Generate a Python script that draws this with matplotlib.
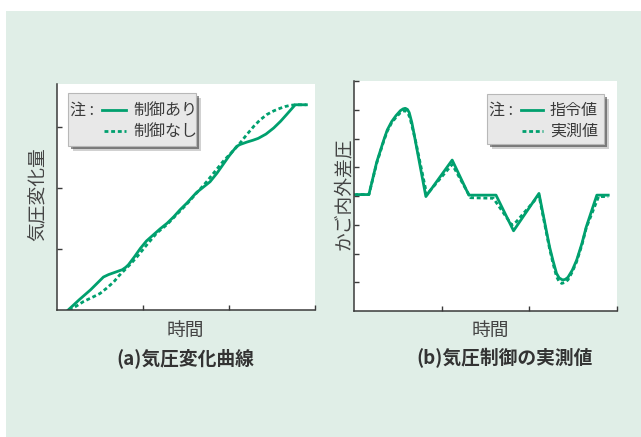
import matplotlib
matplotlib.use("Agg")
import matplotlib.pyplot as plt
from matplotlib.lines import Line2D
from matplotlib.patches import Rectangle

plt.rcParams["font.family"] = ["Noto Sans CJK JP", "DejaVu Sans"]

W, H = 641, 437
GREEN = "#00a06e"
BG = "#e0eee7"
INK = "#3a3a3a"
LW = 2.0
DOTS = (1.4, 1.0)

# (a) 気圧変化曲線
a_t_ctrl = [0.13, 0.26, 0.39, 0.54, 0.60, 0.64, 0.70, 0.76, 0.80, 0.83, 0.90,
            0.97, 1.04, 1.12, 1.20, 1.28, 1.36, 1.43, 1.51, 1.62, 1.70, 1.78,
            1.86, 1.93, 2.00, 2.05, 2.09, 2.13, 2.17, 2.21, 2.28, 2.34, 2.43,
            2.52, 2.60, 2.67, 2.72, 2.77, 2.90]
a_p_ctrl = [0.00, 0.17, 0.33, 0.54, 0.58, 0.60, 0.63, 0.66, 0.70, 0.74, 0.87,
            1.01, 1.13, 1.23, 1.33, 1.42, 1.53, 1.64, 1.75, 1.92, 2.01, 2.10,
            2.24, 2.38, 2.52, 2.61, 2.68, 2.71, 2.73, 2.75, 2.78, 2.81, 2.88,
            2.98, 3.09, 3.20, 3.28, 3.36, 3.36]
a_t_free = [0.14, 0.22, 0.31, 0.40, 0.50, 0.58, 0.66, 0.72, 0.79, 0.86, 0.93,
            1.04, 1.16, 1.28, 1.50, 1.74, 1.93, 2.11, 2.20, 2.29, 2.36, 2.44,
            2.52, 2.59, 2.65, 2.71, 2.77, 2.90]
a_p_free = [0.00, 0.06, 0.14, 0.20, 0.27, 0.36, 0.46, 0.56, 0.66, 0.76, 0.87,
            1.06, 1.26, 1.40, 1.72, 2.10, 2.43, 2.70, 2.86, 3.01, 3.11, 3.20,
            3.26, 3.30, 3.33, 3.35, 3.36, 3.36]

# (b) 気圧制御の実測値
b_t_cmd = [0.04, 0.17, 0.26, 0.34, 0.38, 0.43, 0.48, 0.53, 0.56, 0.585, 0.61,
           0.63, 0.66, 0.68, 0.82, 1.12, 1.31, 1.62, 1.82, 2.11, 2.23, 2.27,
           2.31, 2.34, 2.38, 2.41, 2.44, 2.49, 2.54, 2.60, 2.65, 2.77, 2.90]
b_p_cmd = [4.05, 4.05, 5.19, 5.95, 6.30, 6.59, 6.80, 6.97, 7.03, 7.05, 7.01,
           6.90, 6.55, 6.24, 3.98, 5.25, 4.03, 4.03, 2.79, 4.09, 2.24, 1.75,
           1.31, 1.15, 1.08, 1.10, 1.17, 1.42, 1.77, 2.35, 2.93, 4.03, 4.03]
b_t_meas = [0.0, 0.17, 0.26, 0.34, 0.38, 0.43, 0.48, 0.53, 0.56, 0.59, 0.62,
            0.64, 0.70, 0.83, 1.12, 1.33, 1.59, 1.80, 1.85, 2.11, 2.23, 2.27,
            2.31, 2.34, 2.37, 2.40, 2.44, 2.49, 2.54, 2.60, 2.65, 2.79, 2.90]
b_p_meas = [4.05, 4.05, 5.15, 5.92, 6.26, 6.55, 6.74, 6.90, 6.95, 6.96, 6.85,
            6.70, 5.95, 4.05, 5.10, 3.94, 3.92, 2.99, 3.10, 4.02, 2.18, 1.66,
            1.20, 1.02, 0.96, 0.99, 1.08, 1.36, 1.72, 2.30, 2.90, 3.98, 3.98]

a_ticks_x = [1, 2, 3]
a_ticks_y = [1, 2, 3]
b_ticks_x = [1, 2, 3]
b_ticks_y = [1, 2, 3, 4, 5, 6, 7, 8]


def fx(px):
    return px / W


def fy(py):
    return 1 - py / H


def setup_axes(rect, xlim, ylim, xticks, yticks):
    ax = fig.add_axes(rect)
    ax.set_facecolor("white")
    ax.set_xlim(*xlim)
    ax.set_ylim(*ylim)
    for s in ("top", "right"):
        ax.spines[s].set_visible(False)
    for s in ("left", "bottom"):
        ax.spines[s].set_color(INK)
        ax.spines[s].set_linewidth(1.1)
    ax.set_xticks(xticks)
    ax.set_yticks(yticks)
    ax.set_xticklabels([])
    ax.set_yticklabels([])
    ax.tick_params(direction="in", length=3.5, width=1.0, color=INK)
    return ax


def draw_note(box, rows):
    """凡例（注：）を影付きの枠で描く。box = (x0, y0, x1, y1) [px]"""
    x0, y0, x1, y1 = box
    for off, c, a in [(4.5, "#000000", 0.18), (3.0, "#333333", 0.55)]:
        fig.add_artist(Rectangle((fx(x0 + off), fy(y1 + off)),
                                 fx(x1 - x0), (y1 - y0) / H,
                                 transform=fig.transFigure, facecolor=c,
                                 edgecolor="none", alpha=a, zorder=5))
    fig.add_artist(Rectangle((fx(x0), fy(y1)), fx(x1 - x0), (y1 - y0) / H,
                             transform=fig.transFigure, facecolor="#e8e8e8",
                             edgecolor="#b8b8b8", linewidth=0.8, zorder=6))
    for i, (lx0, lx1, tx, yy, label, dashed) in enumerate(rows):
        if i == 0:
            fig.text(fx(x0 + 2), fy(yy), "注 :", fontsize=11.5, color=INK,
                     ha="left", va="center", zorder=7)
        ln = Line2D([fx(lx0), fx(lx1)], [fy(yy), fy(yy)],
                    transform=fig.transFigure, color=GREEN, lw=LW, zorder=7)
        if dashed:
            ln.set_dashes(DOTS)
        fig.add_artist(ln)
        fig.text(fx(tx), fy(yy), label, fontsize=11.5, color=INK,
                 ha="left", va="center", zorder=7)


fig = plt.figure(figsize=(W / 100, H / 100), dpi=100)
fig.patch.set_facecolor("white")
fig.add_artist(Rectangle((fx(6), 0), 1 - fx(6), fy(11), transform=fig.transFigure,
                         facecolor=BG, edgecolor="none", zorder=0))

# (a)
ax_a = setup_axes([fx(57), fy(310), fx(315 - 57), (310 - 84) / H],
                  (0, 3.0), (0, 3.70), a_ticks_x, a_ticks_y)
ax_a.plot(a_t_free, a_p_free, color=GREEN, lw=LW, dashes=DOTS)
ax_a.plot(a_t_ctrl, a_p_ctrl, color=GREEN, lw=LW)

# (b)
ax_b = setup_axes([fx(354), fy(311), fx(617 - 354), (311 - 81) / H],
                  (0, 3.0), (0, 8.0), b_ticks_x, b_ticks_y)
ax_b.plot(b_t_meas, b_p_meas, color=GREEN, lw=LW, dashes=DOTS)
ax_b.plot(b_t_cmd, b_p_cmd, color=GREEN, lw=LW)

# 軸ラベル・見出し
label_kw = dict(fontsize=13.5, color="#444444", ha="center", va="center")
fig.text(fx(37), fy(194), "気圧変化量", rotation=90, **label_kw)
fig.text(fx(343), fy(194), "かご内外差圧", rotation=90, **label_kw)
fig.text(fx(185), fy(330), "時間", **label_kw)
fig.text(fx(490), fy(330), "時間", **label_kw)

title_kw = dict(fontsize=13.5, color="#333333", ha="center", va="center",
                fontweight="bold")
fig.text(fx(185), fy(358), "(a)気圧変化曲線", **title_kw)
fig.text(fx(505), fy(358), "(b)気圧制御の実測値", **title_kw)

draw_note((68, 93, 196, 146),
          [(102, 126, 133, 110, "制御あり", False),
           (104, 126, 133, 131, "制御なし", True)])
draw_note((487, 94, 604, 144),
          [(521, 543, 550, 110, "指令値", False),
           (522, 543, 550, 131, "実測値", True)])

fig.savefig("out.png", dpi=100, facecolor=fig.get_facecolor())
